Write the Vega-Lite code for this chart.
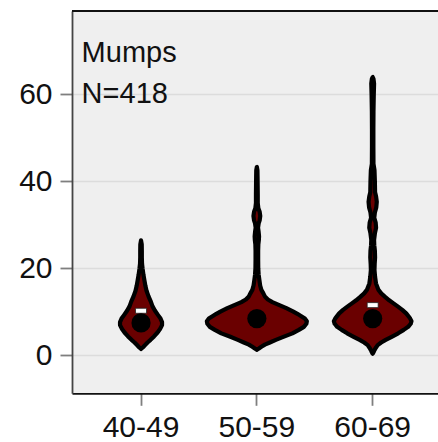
{
  "$schema": "https://vega.github.io/schema/vega-lite/v6.json",
  "width": 366,
  "height": 382.3,
  "autosize": {"type": "none"},
  "padding": {"left": 72, "top": 11, "right": 0, "bottom": 48.7},
  "background": "white",
  "datasets": {
    "outline": [
      {"g":"40-49","v":1.4,"w":0},
      {"g":"40-49","v":1.8,"w":0.02},
      {"g":"40-49","v":2.3,"w":0.04},
      {"g":"40-49","v":2.9,"w":0.065},
      {"g":"40-49","v":3.5,"w":0.095},
      {"g":"40-49","v":4.3,"w":0.13},
      {"g":"40-49","v":5.2,"w":0.165},
      {"g":"40-49","v":6.0,"w":0.19},
      {"g":"40-49","v":6.9,"w":0.21},
      {"g":"40-49","v":7.6,"w":0.21},
      {"g":"40-49","v":8.4,"w":0.195},
      {"g":"40-49","v":9.2,"w":0.17},
      {"g":"40-49","v":10.2,"w":0.14},
      {"g":"40-49","v":11.2,"w":0.115},
      {"g":"40-49","v":12.3,"w":0.098},
      {"g":"40-49","v":13.5,"w":0.075},
      {"g":"40-49","v":14.8,"w":0.055},
      {"g":"40-49","v":16.0,"w":0.043},
      {"g":"40-49","v":17.3,"w":0.033},
      {"g":"40-49","v":18.5,"w":0.024},
      {"g":"40-49","v":19.8,"w":0.016},
      {"g":"40-49","v":21.0,"w":0.01},
      {"g":"40-49","v":22.5,"w":0.008},
      {"g":"40-49","v":24.0,"w":0.008},
      {"g":"40-49","v":25.5,"w":0.007},
      {"g":"40-49","v":26.4,"w":0},
      {"g":"40-49","v":25.5,"w":-0.007},
      {"g":"40-49","v":24.0,"w":-0.008},
      {"g":"40-49","v":22.5,"w":-0.008},
      {"g":"40-49","v":21.0,"w":-0.01},
      {"g":"40-49","v":19.8,"w":-0.016},
      {"g":"40-49","v":18.5,"w":-0.024},
      {"g":"40-49","v":17.3,"w":-0.033},
      {"g":"40-49","v":16.0,"w":-0.043},
      {"g":"40-49","v":14.8,"w":-0.055},
      {"g":"40-49","v":13.5,"w":-0.075},
      {"g":"40-49","v":12.3,"w":-0.098},
      {"g":"40-49","v":11.2,"w":-0.115},
      {"g":"40-49","v":10.2,"w":-0.14},
      {"g":"40-49","v":9.2,"w":-0.17},
      {"g":"40-49","v":8.4,"w":-0.195},
      {"g":"40-49","v":7.6,"w":-0.21},
      {"g":"40-49","v":6.9,"w":-0.21},
      {"g":"40-49","v":6.0,"w":-0.19},
      {"g":"40-49","v":5.2,"w":-0.165},
      {"g":"40-49","v":4.3,"w":-0.13},
      {"g":"40-49","v":3.5,"w":-0.095},
      {"g":"40-49","v":2.9,"w":-0.065},
      {"g":"40-49","v":2.3,"w":-0.04},
      {"g":"40-49","v":1.8,"w":-0.02},
      {"g":"40-49","v":1.4,"w":0},

      {"g":"50-59","v":1.2,"w":0},
      {"g":"50-59","v":1.5,"w":0.02},
      {"g":"50-59","v":1.9,"w":0.045},
      {"g":"50-59","v":2.4,"w":0.08},
      {"g":"50-59","v":2.9,"w":0.13},
      {"g":"50-59","v":3.5,"w":0.19},
      {"g":"50-59","v":4.2,"w":0.265},
      {"g":"50-59","v":5.0,"w":0.355},
      {"g":"50-59","v":5.8,"w":0.42},
      {"g":"50-59","v":6.5,"w":0.47},
      {"g":"50-59","v":7.2,"w":0.495},
      {"g":"50-59","v":7.8,"w":0.5},
      {"g":"50-59","v":8.4,"w":0.48},
      {"g":"50-59","v":9.0,"w":0.44},
      {"g":"50-59","v":9.5,"w":0.405},
      {"g":"50-59","v":10.0,"w":0.365},
      {"g":"50-59","v":10.8,"w":0.295},
      {"g":"50-59","v":11.5,"w":0.225},
      {"g":"50-59","v":12.2,"w":0.155},
      {"g":"50-59","v":12.8,"w":0.11},
      {"g":"50-59","v":13.5,"w":0.08},
      {"g":"50-59","v":14.2,"w":0.065},
      {"g":"50-59","v":15.0,"w":0.045},
      {"g":"50-59","v":16.0,"w":0.033},
      {"g":"50-59","v":17.3,"w":0.025},
      {"g":"50-59","v":18.5,"w":0.018},
      {"g":"50-59","v":20.0,"w":0.014},
      {"g":"50-59","v":22.0,"w":0.013},
      {"g":"50-59","v":24.0,"w":0.013},
      {"g":"50-59","v":25.5,"w":0.015},
      {"g":"50-59","v":26.5,"w":0.02},
      {"g":"50-59","v":27.3,"w":0.022},
      {"g":"50-59","v":28.3,"w":0.018},
      {"g":"50-59","v":29.3,"w":0.012},
      {"g":"50-59","v":30.3,"w":0.018},
      {"g":"50-59","v":31.0,"w":0.028},
      {"g":"50-59","v":32.0,"w":0.034},
      {"g":"50-59","v":33.0,"w":0.028},
      {"g":"50-59","v":33.8,"w":0.015},
      {"g":"50-59","v":35.0,"w":0.009},
      {"g":"50-59","v":37.0,"w":0.009},
      {"g":"50-59","v":39.0,"w":0.008},
      {"g":"50-59","v":41.0,"w":0.007},
      {"g":"50-59","v":42.5,"w":0.006},
      {"g":"50-59","v":43.3,"w":0},
      {"g":"50-59","v":42.5,"w":-0.006},
      {"g":"50-59","v":41.0,"w":-0.007},
      {"g":"50-59","v":39.0,"w":-0.008},
      {"g":"50-59","v":37.0,"w":-0.009},
      {"g":"50-59","v":35.0,"w":-0.009},
      {"g":"50-59","v":33.8,"w":-0.015},
      {"g":"50-59","v":33.0,"w":-0.028},
      {"g":"50-59","v":32.0,"w":-0.034},
      {"g":"50-59","v":31.0,"w":-0.028},
      {"g":"50-59","v":30.3,"w":-0.018},
      {"g":"50-59","v":29.3,"w":-0.012},
      {"g":"50-59","v":28.3,"w":-0.018},
      {"g":"50-59","v":27.3,"w":-0.022},
      {"g":"50-59","v":26.5,"w":-0.02},
      {"g":"50-59","v":25.5,"w":-0.015},
      {"g":"50-59","v":24.0,"w":-0.013},
      {"g":"50-59","v":22.0,"w":-0.013},
      {"g":"50-59","v":20.0,"w":-0.014},
      {"g":"50-59","v":18.5,"w":-0.018},
      {"g":"50-59","v":17.3,"w":-0.025},
      {"g":"50-59","v":16.0,"w":-0.033},
      {"g":"50-59","v":15.0,"w":-0.045},
      {"g":"50-59","v":14.2,"w":-0.065},
      {"g":"50-59","v":13.5,"w":-0.08},
      {"g":"50-59","v":12.8,"w":-0.11},
      {"g":"50-59","v":12.2,"w":-0.155},
      {"g":"50-59","v":11.5,"w":-0.225},
      {"g":"50-59","v":10.8,"w":-0.295},
      {"g":"50-59","v":10.0,"w":-0.365},
      {"g":"50-59","v":9.5,"w":-0.405},
      {"g":"50-59","v":9.0,"w":-0.44},
      {"g":"50-59","v":8.4,"w":-0.48},
      {"g":"50-59","v":7.8,"w":-0.5},
      {"g":"50-59","v":7.2,"w":-0.495},
      {"g":"50-59","v":6.5,"w":-0.47},
      {"g":"50-59","v":5.8,"w":-0.42},
      {"g":"50-59","v":5.0,"w":-0.355},
      {"g":"50-59","v":4.2,"w":-0.265},
      {"g":"50-59","v":3.5,"w":-0.19},
      {"g":"50-59","v":2.9,"w":-0.13},
      {"g":"50-59","v":2.4,"w":-0.08},
      {"g":"50-59","v":1.9,"w":-0.045},
      {"g":"50-59","v":1.5,"w":-0.02},
      {"g":"50-59","v":1.2,"w":0},

      {"g":"60-69","v":0.3,"w":0},
      {"g":"60-69","v":0.7,"w":0.01},
      {"g":"60-69","v":1.15,"w":0.018},
      {"g":"60-69","v":1.7,"w":0.032},
      {"g":"60-69","v":2.3,"w":0.05},
      {"g":"60-69","v":2.9,"w":0.085},
      {"g":"60-69","v":3.5,"w":0.13},
      {"g":"60-69","v":4.2,"w":0.19},
      {"g":"60-69","v":5.0,"w":0.255},
      {"g":"60-69","v":5.8,"w":0.31},
      {"g":"60-69","v":6.5,"w":0.355},
      {"g":"60-69","v":7.2,"w":0.38},
      {"g":"60-69","v":7.8,"w":0.388},
      {"g":"60-69","v":8.4,"w":0.375},
      {"g":"60-69","v":8.8,"w":0.362},
      {"g":"60-69","v":9.6,"w":0.335},
      {"g":"60-69","v":10.4,"w":0.296},
      {"g":"60-69","v":11.2,"w":0.25},
      {"g":"60-69","v":11.9,"w":0.208},
      {"g":"60-69","v":12.6,"w":0.165},
      {"g":"60-69","v":13.4,"w":0.124},
      {"g":"60-69","v":14.2,"w":0.085},
      {"g":"60-69","v":15.0,"w":0.058},
      {"g":"60-69","v":16.5,"w":0.033},
      {"g":"60-69","v":18.0,"w":0.024},
      {"g":"60-69","v":19.6,"w":0.018},
      {"g":"60-69","v":21.0,"w":0.02},
      {"g":"60-69","v":22.5,"w":0.024},
      {"g":"60-69","v":24.0,"w":0.022},
      {"g":"60-69","v":25.3,"w":0.016},
      {"g":"60-69","v":26.5,"w":0.014},
      {"g":"60-69","v":28.0,"w":0.022},
      {"g":"60-69","v":29.3,"w":0.034},
      {"g":"60-69","v":30.5,"w":0.03},
      {"g":"60-69","v":31.6,"w":0.016},
      {"g":"60-69","v":32.8,"w":0.022},
      {"g":"60-69","v":34.0,"w":0.036},
      {"g":"60-69","v":35.3,"w":0.041},
      {"g":"60-69","v":36.5,"w":0.034},
      {"g":"60-69","v":37.5,"w":0.024},
      {"g":"60-69","v":40.0,"w":0.022},
      {"g":"60-69","v":42.6,"w":0.018},
      {"g":"60-69","v":44.0,"w":0.008},
      {"g":"60-69","v":48.0,"w":0.007},
      {"g":"60-69","v":52.0,"w":0.007},
      {"g":"60-69","v":56.0,"w":0.008},
      {"g":"60-69","v":60.0,"w":0.011},
      {"g":"60-69","v":62.5,"w":0.014},
      {"g":"60-69","v":63.6,"w":0.008},
      {"g":"60-69","v":64.0,"w":0},
      {"g":"60-69","v":63.6,"w":-0.008},
      {"g":"60-69","v":62.5,"w":-0.014},
      {"g":"60-69","v":60.0,"w":-0.011},
      {"g":"60-69","v":56.0,"w":-0.008},
      {"g":"60-69","v":52.0,"w":-0.007},
      {"g":"60-69","v":48.0,"w":-0.007},
      {"g":"60-69","v":44.0,"w":-0.008},
      {"g":"60-69","v":42.6,"w":-0.018},
      {"g":"60-69","v":40.0,"w":-0.022},
      {"g":"60-69","v":37.5,"w":-0.024},
      {"g":"60-69","v":36.5,"w":-0.034},
      {"g":"60-69","v":35.3,"w":-0.041},
      {"g":"60-69","v":34.0,"w":-0.036},
      {"g":"60-69","v":32.8,"w":-0.022},
      {"g":"60-69","v":31.6,"w":-0.016},
      {"g":"60-69","v":30.5,"w":-0.03},
      {"g":"60-69","v":29.3,"w":-0.034},
      {"g":"60-69","v":28.0,"w":-0.022},
      {"g":"60-69","v":26.5,"w":-0.014},
      {"g":"60-69","v":25.3,"w":-0.016},
      {"g":"60-69","v":24.0,"w":-0.022},
      {"g":"60-69","v":22.5,"w":-0.024},
      {"g":"60-69","v":21.0,"w":-0.02},
      {"g":"60-69","v":19.6,"w":-0.018},
      {"g":"60-69","v":18.0,"w":-0.024},
      {"g":"60-69","v":16.5,"w":-0.033},
      {"g":"60-69","v":15.0,"w":-0.058},
      {"g":"60-69","v":14.2,"w":-0.085},
      {"g":"60-69","v":13.4,"w":-0.124},
      {"g":"60-69","v":12.6,"w":-0.165},
      {"g":"60-69","v":11.9,"w":-0.208},
      {"g":"60-69","v":11.2,"w":-0.25},
      {"g":"60-69","v":10.4,"w":-0.296},
      {"g":"60-69","v":9.6,"w":-0.335},
      {"g":"60-69","v":8.8,"w":-0.362},
      {"g":"60-69","v":8.4,"w":-0.375},
      {"g":"60-69","v":7.8,"w":-0.388},
      {"g":"60-69","v":7.2,"w":-0.38},
      {"g":"60-69","v":6.5,"w":-0.355},
      {"g":"60-69","v":5.8,"w":-0.31},
      {"g":"60-69","v":5.0,"w":-0.255},
      {"g":"60-69","v":4.2,"w":-0.19},
      {"g":"60-69","v":3.5,"w":-0.13},
      {"g":"60-69","v":2.9,"w":-0.085},
      {"g":"60-69","v":2.3,"w":-0.05},
      {"g":"60-69","v":1.7,"w":-0.032},
      {"g":"60-69","v":1.15,"w":-0.018},
      {"g":"60-69","v":0.7,"w":-0.01},
      {"g":"60-69","v":0.3,"w":0}
    ],
    "stats": [
      {"g":"40-49","median":7.4,"mean":10.2},
      {"g":"50-59","median":8.4,"mean":9.3},
      {"g":"60-69","median":8.4,"mean":11.5}
    ]
  },
  "encoding": {
    "x": {
      "field": "g",
      "type": "nominal",
      "scale": {"type": "band", "domain": ["40-49","50-59","60-69"], "paddingInner": 0, "paddingOuter": 0.08, "align": 0.6},
      "axis": {
        "title": null,
        "labelAngle": 0,
        "labelFont": "Liberation Sans",
        "labelFontSize": 30,
        "labelColor": "#111111",
        "labelPadding": 7.5,
        "tickSize": 12,
        "tickColor": "#7f7f7f",
        "tickWidth": 1.8,
        "domainColor": "#111111",
        "domainWidth": 1.8,
        "gridColor": "#dcdcdc",
        "gridWidth": 1.5,
        "bandPosition": 0.5
      }
    },
    "y": {
      "type": "quantitative",
      "scale": {"domain": [-8.8, 79.2], "nice": false, "zero": false},
      "axis": {
        "title": null,
        "values": [0, 20, 40, 60],
        "labelFont": "Liberation Sans",
        "labelFontSize": 30,
        "labelColor": "#111111",
        "labelPadding": 8,
        "tickSize": 12,
        "tickColor": "#7f7f7f",
        "tickWidth": 1.8,
        "domainColor": "#444444",
        "domainWidth": 1.8,
        "gridColor": "#dcdcdc",
        "gridWidth": 1.5
      }
    }
  },
  "layer": [
    {
      "data": {"name": "outline"},
      "mark": {"type": "line", "fill": "#6a0000", "stroke": "black", "strokeWidth": 4.2, "strokeJoin": "round", "strokeCap": "round"},
      "encoding": {
        "y": {"field": "v", "type": "quantitative"},
        "xOffset": {"field": "w", "type": "quantitative", "scale": {"domain": [-0.579, 0.579]}},
        "detail": {"field": "g"},
        "order": {"value": null}
      }
    },
    {
      "data": {"name": "stats"},
      "mark": {"type": "tick", "orient": "horizontal", "size": 11, "thickness": 5, "color": "white", "stroke": "#222222", "strokeWidth": 0.8, "opacity": 1},
      "encoding": {
        "y": {"field": "mean", "type": "quantitative"}
      }
    },
    {
      "data": {"name": "stats"},
      "mark": {"type": "circle", "size": 370, "color": "black", "opacity": 1},
      "encoding": {
        "y": {"field": "median", "type": "quantitative"}
      }
    },
    {
      "data": {"values": [{}]},
      "mark": {"type": "rule", "color": "#111111", "strokeWidth": 1.8},
      "encoding": {
        "x": null,
        "y": {"datum": 79.2}
      }
    },
    {
      "data": {"values": [{}]},
      "mark": {"type": "text", "text": ["Mumps", "N=418"], "font": "Liberation Sans", "fontSize": 29, "align": "left", "baseline": "alphabetic", "lineHeight": 41.6, "color": "#111111", "dx": -1.5},
      "encoding": {
        "x": {"datum": "40-49"},
        "xOffset": {"datum": -0.579},
        "y": {"datum": 67.5}
      }
    }
  ],
  "config": {
    "view": {"fill": "#efefef", "stroke": null}
  }
}
